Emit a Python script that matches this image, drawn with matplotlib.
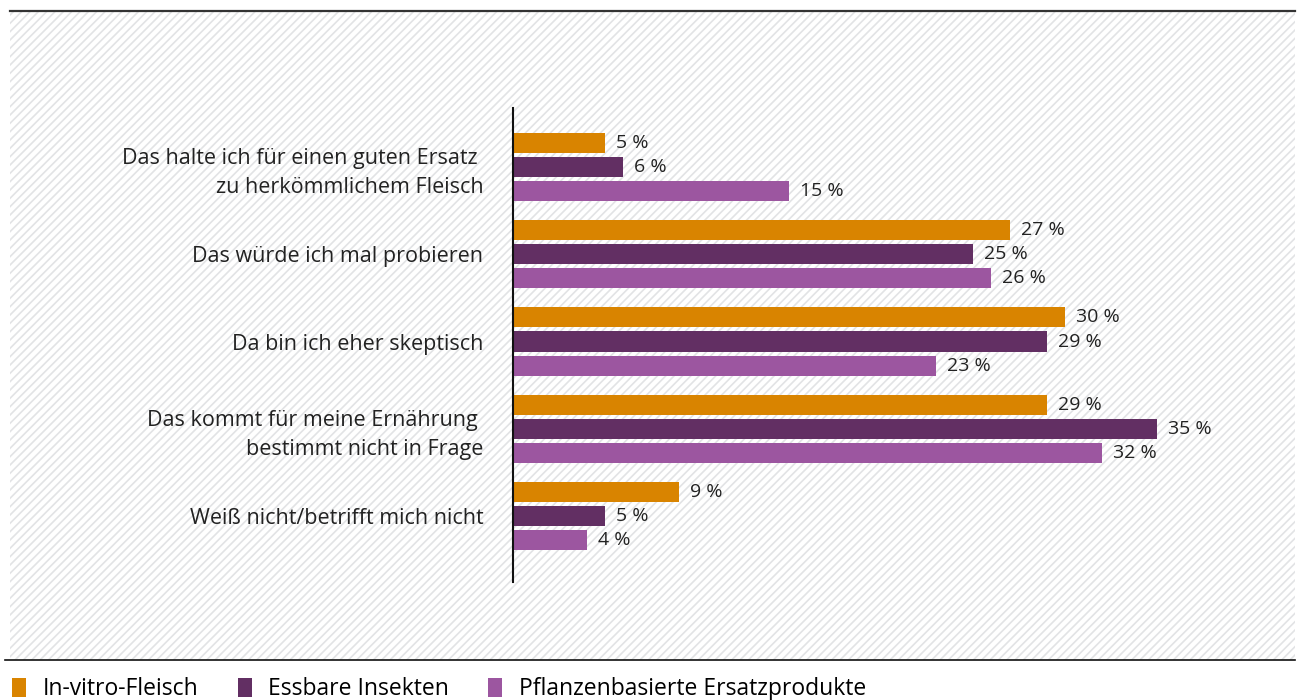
import numpy as np
import matplotlib.pyplot as plt
from matplotlib.patches import Rectangle
from matplotlib.lines import Line2D

# Daten
categories = ['Das halte ich für einen guten Ersatz \nzu herkömmlichem Fleisch',
              'Das würde ich mal probieren',
              'Da bin ich eher skeptisch',
              'Das kommt für meine Ernährung \nbestimmt nicht in Frage',
              'Weiß nicht/betrifft mich nicht']
series_names = ['In-vitro-Fleisch', 'Essbare Insekten', 'Pflanzenbasierte Ersatzprodukte']
in_vitro = [5, 27, 30, 29, 9]
insekten = [6, 25, 29, 35, 5]
pflanzen = [15, 26, 23, 32, 4]
colors = ['#d98400', '#622f63', '#9c56a0']

plt.rcParams['font.family'] = ['Open Sans', 'DejaVu Sans']
plt.rcParams['hatch.linewidth'] = 1.2

W, H = 1301, 700
fig = plt.figure(figsize=(W / 100, H / 100), dpi=100)

# gestreifter Hintergrund
bg = Rectangle((10 / W, 1 - 660 / H), 1285 / W, 648 / H, transform=fig.transFigure,
               facecolor='white', edgecolor='#e2e3e5', lw=0, hatch='////', zorder=-10)
fig.add_artist(bg)
fig.add_artist(Line2D([10 / W, 1295 / W], [1 - 11 / H, 1 - 11 / H], color='#333333', lw=1.6))
fig.add_artist(Line2D([5 / W, 1295 / W], [1 - 660 / H, 1 - 660 / H], color='#111111', lw=1.2))

ax = fig.add_axes([513 / W, 1 - 582 / H, 782 / W, 474 / H])
ax.patch.set_alpha(0)
ax.set_zorder(5)

y = np.arange(len(categories))
off = 0.276
h = 0.23
data = [in_vitro, insekten, pflanzen]
for k, vals in enumerate(data):
    yy = y + (k - 1) * off
    ax.barh(yy, vals, height=h, color=colors[k], label=series_names[k])
    for yi, v in zip(yy, vals):
        ax.text(v + 0.6, yi, f'{v} %', va='center', ha='left', fontsize=14, color='#222222')

ax.set_xlim(0, 782 / 18.4)
ax.set_ylim(4.756, -0.676)
ax.set_yticks(y)
ax.set_yticklabels(categories, fontsize=15.5, color='#222222', linespacing=1.5)
ax.tick_params(axis='y', length=0, pad=21.5)
ax.set_xticks([])
for s in ['top', 'right', 'bottom']:
    ax.spines[s].set_visible(False)
ax.spines['left'].set_linewidth(1.5)
ax.spines['left'].set_color('#111111')

fig.legend(loc='lower left', bbox_to_anchor=(3 / W, -0.015), ncol=3, frameon=False,
           fontsize=16.5, handlelength=0.62, handleheight=0.9, handletextpad=0.72,
           columnspacing=1.7, borderaxespad=0)

fig.savefig('out.png', dpi=100)
